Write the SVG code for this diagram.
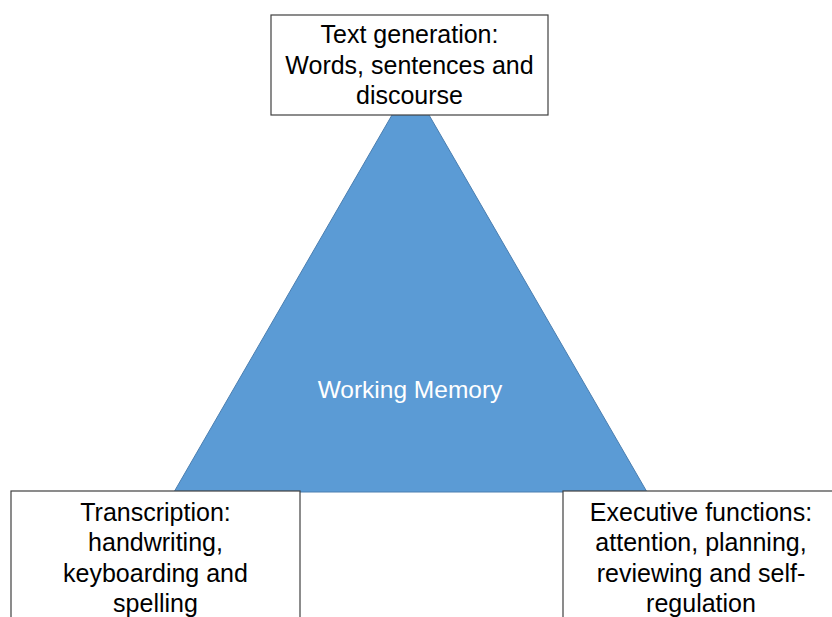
<svg xmlns="http://www.w3.org/2000/svg" width="832" height="617" viewBox="0 0 832 617">
<style>
.box{fill:#fff;stroke:#404040;stroke-width:1.2}
.t{font-family:"Liberation Sans",Arial,sans-serif;font-size:25px;fill:#000;text-anchor:middle}
.w{font-family:"Liberation Sans",Arial,sans-serif;font-size:24.5px;fill:#fff;text-anchor:middle}
</style>
<rect width="832" height="617" fill="#fff"/>
<g id="triangle">
<polygon points="410.5,83 647,492 174,492" fill="#5B9BD5" stroke="#4A7EB0" stroke-width="1"/>
<text class="w" x="410" y="398">Working Memory</text>
</g>
<g id="connectors"></g>
<g id="top">
<rect class="box" x="271" y="15" width="277" height="100"/>
<text class="t" x="409.5" y="43">Text generation:</text>
<text class="t" x="409.5" y="74">Words, sentences and</text>
<text class="t" x="409.5" y="104">discourse</text>
</g>
<g id="left">
<rect class="box" x="11" y="491" width="289" height="140"/>
<text class="t" x="155.5" y="521">Transcription:</text>
<text class="t" x="155.5" y="551">handwriting,</text>
<text class="t" x="155.5" y="582">keyboarding and</text>
<text class="t" x="155.5" y="612">spelling</text>
</g>
<g id="right">
<rect class="box" x="563" y="491" width="290" height="140"/>
<text class="t" x="701" y="521">Executive functions:</text>
<text class="t" x="701" y="551">attention, planning,</text>
<text class="t" x="701" y="582">reviewing and self-</text>
<text class="t" x="701" y="612">regulation</text>
</g>
</svg>
